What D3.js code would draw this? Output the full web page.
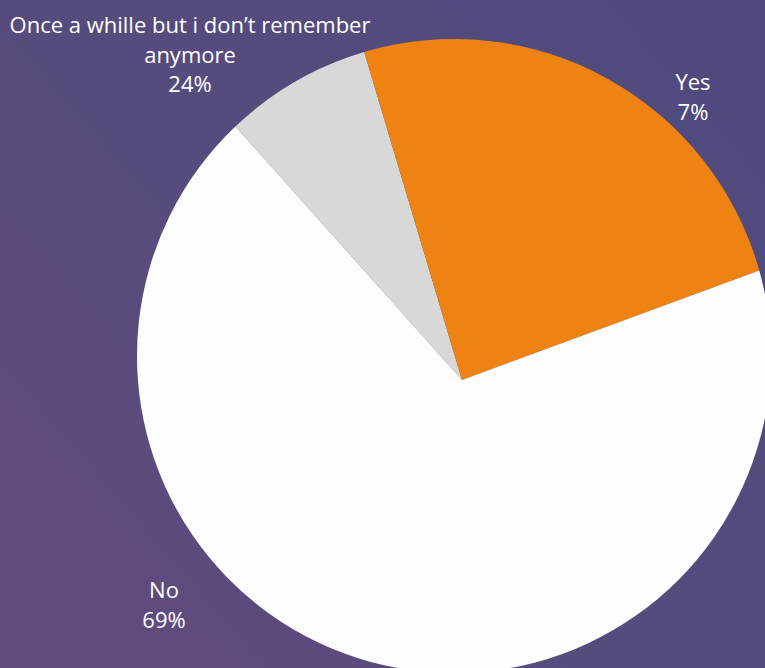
<!DOCTYPE html>
<html>
<head>
<meta charset="utf-8">
<script src="https://cdn.jsdelivr.net/npm/d3@7"></script>
<style>
  html, body { margin: 0; padding: 0; background: #564b7d; }
  svg { display: block; }
  text { font-family: "Open Sans", "Noto Sans", sans-serif; fill: #ffffff; }
</style>
</head>
<body>
<svg id="chart" width="765" height="668"></svg>
<script>
// Survey answers, in drawing order (clockwise)
const categories = ["Yes", "Once a whille but i don\u2019t remember anymore", "No"];
const shares = [7, 24, 69];
const sliceColors = ["#d8d8d8", "#ee8213", "#fdfdfd"];

// Label lines shown beside the pie
const labelLines = [
  ["Yes", "7%"],
  ["Once a whille but i don\u2019t remember", "anymore", "24%"],
  ["No", "69%"]
];
// Label anchors (x of centre, baseline of first line)
const labelAnchors = [[693, 90], [190, 33], [164, 598]];

const W = 765, H = 668;
const svg = d3.select("#chart");

// Background gradient
const defs = svg.append("defs");
const grad = defs.append("linearGradient")
  .attr("id", "bg").attr("gradientUnits", "userSpaceOnUse")
  .attr("x1", 0).attr("y1", H).attr("x2", W).attr("y2", 0);
grad.append("stop").attr("offset", 0).attr("stop-color", "#604c7c");
grad.append("stop").attr("offset", 0.5).attr("stop-color", "#564b7d");
grad.append("stop").attr("offset", 1).attr("stop-color", "#4e4a7e");
svg.append("rect").attr("width", W).attr("height", H).attr("fill", "url(#bg)");

// Wedges meet at the apex; the rim is a circle with its own centre
const apex = [462, 380];
const rim = { cx: 454, cy: 356, r: 317 };

const pie = d3.pie().sort(null).value(d => d)
  .startAngle(-41.8 * Math.PI / 180)
  .endAngle(-41.8 * Math.PI / 180 + 2 * Math.PI);
const arcs = pie(shares);

// Point where a ray from the apex (angle clockwise from 12 o'clock) meets the rim
function rimPoint(theta) {
  const dx = Math.sin(theta), dy = -Math.cos(theta);
  const wx = apex[0] - rim.cx, wy = apex[1] - rim.cy;
  const b = wx * dx + wy * dy;
  const t = -b + Math.sqrt(b * b - (wx * wx + wy * wy) + rim.r * rim.r);
  return [apex[0] + t * dx, apex[1] + t * dy];
}

function wedgePath(a) {
  const p0 = rimPoint(a.startAngle), p1 = rimPoint(a.endAngle);
  let a0 = Math.atan2(p0[1] - rim.cy, p0[0] - rim.cx);
  let a1 = Math.atan2(p1[1] - rim.cy, p1[0] - rim.cx);
  while (a1 <= a0) a1 += 2 * Math.PI;
  const p = d3.path();
  p.moveTo(apex[0], apex[1]);
  p.lineTo(p0[0], p0[1]);
  p.arc(rim.cx, rim.cy, rim.r, a0, a1, false);
  p.closePath();
  return p.toString();
}

svg.append("g").selectAll("path")
  .data(arcs)
  .join("path")
  .attr("d", wedgePath)
  .attr("fill", (d, i) => sliceColors[i]);

// Labels
const lineHeight = 29.5;
const lg = svg.append("g");
labelLines.forEach((lines, i) => {
  const t = lg.append("text")
    .attr("text-anchor", "middle")
    .attr("font-size", 22)
    .attr("x", labelAnchors[i][0])
    .attr("y", labelAnchors[i][1]);
  lines.forEach((s, j) => {
    t.append("tspan")
      .attr("x", labelAnchors[i][0])
      .attr("dy", j === 0 ? 0 : lineHeight)
      .text(s);
  });
});
</script>
</body>
</html>
